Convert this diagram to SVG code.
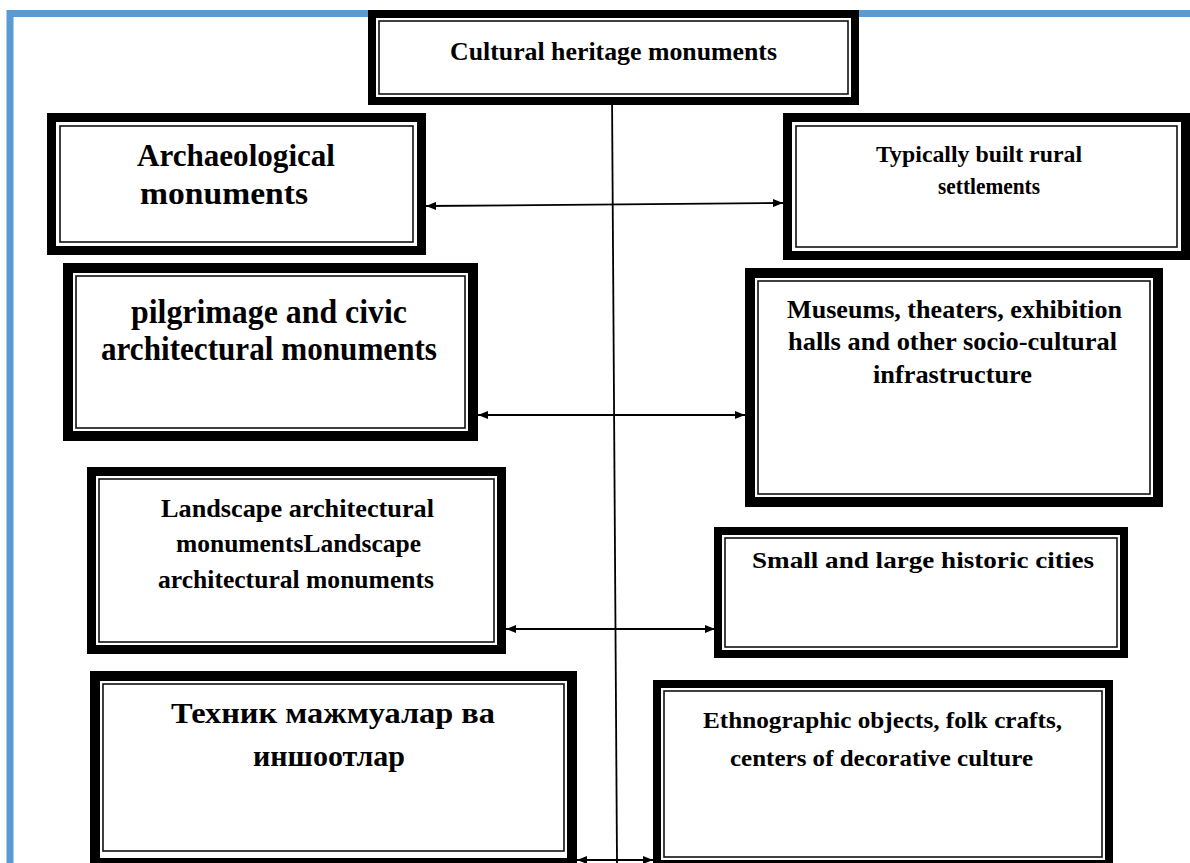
<svg xmlns="http://www.w3.org/2000/svg" width="1190" height="863" viewBox="0 0 1190 863">
<defs>
<style>
.outer{fill:#fff;stroke:#000}
.inner{fill:none;stroke:#111;stroke-width:1.6}
.t{font-family:"Liberation Serif","Times New Roman",serif;font-weight:bold;fill:#000;text-anchor:middle}
.c{stroke:#000;stroke-width:1.8;fill:none}
</style>
<marker id="ah" viewBox="0 0 10 8" refX="10" refY="4" markerWidth="10" markerHeight="8" markerUnits="userSpaceOnUse" orient="auto-start-reverse">
<path d="M0,0 L10,4 L0,8 z" fill="#000"/>
</marker>
</defs>
<rect width="1190" height="863" fill="#fff"/>
<path d="M10,900 V13.5 H1195" fill="none" stroke="#5b9bd5" stroke-width="7"/>

<g id="connectors">
<line class="c" x1="612" y1="93" x2="617" y2="863"/>
<line class="c" x1="426" y1="206" x2="783" y2="203" marker-start="url(#ah)" marker-end="url(#ah)"/>
<line class="c" x1="478" y1="415" x2="745" y2="415" marker-start="url(#ah)" marker-end="url(#ah)"/>
<line class="c" x1="506" y1="629" x2="715" y2="629" marker-start="url(#ah)" marker-end="url(#ah)"/>
<line class="c" x1="577" y1="860" x2="653" y2="860" marker-start="url(#ah)" marker-end="url(#ah)"/>
</g>

<g id="n-top">
<rect class="outer" x="372" y="14" width="483" height="87" stroke-width="8"/>
<rect class="inner" x="379" y="21" width="469" height="73"/>
<text class="t" x="613.5" y="60" font-size="26" textLength="327" lengthAdjust="spacingAndGlyphs">Cultural heritage monuments</text>
</g>

<g id="n-arch">
<rect class="outer" x="51.5" y="117.5" width="370" height="133" stroke-width="9"/>
<rect class="inner" x="60" y="126" width="353" height="116"/>
<text class="t" x="236" y="166" font-size="32" textLength="198" lengthAdjust="spacingAndGlyphs">Archaeological</text>
<text class="t" x="224" y="204" font-size="32" textLength="168" lengthAdjust="spacingAndGlyphs">monuments</text>
</g>

<g id="n-typ">
<rect class="outer" x="787.5" y="117.5" width="398" height="138" stroke-width="9"/>
<rect class="inner" x="796" y="126" width="381" height="121"/>
<text class="t" x="979" y="162" font-size="24" textLength="206" lengthAdjust="spacingAndGlyphs">Typically built rural</text>
<text class="t" x="989" y="194" font-size="24" textLength="102" lengthAdjust="spacingAndGlyphs">settlements</text>
</g>

<g id="n-pilg">
<rect class="outer" x="68" y="268" width="405" height="168" stroke-width="10"/>
<rect class="inner" x="76" y="276" width="389" height="152"/>
<text class="t" x="269" y="323" font-size="34" textLength="276" lengthAdjust="spacingAndGlyphs">pilgrimage  and civic</text>
<text class="t" x="269" y="360" font-size="34" textLength="336" lengthAdjust="spacingAndGlyphs">architectural  monuments</text>
</g>

<g id="n-mus">
<rect class="outer" x="750" y="273" width="408" height="229" stroke-width="10"/>
<rect class="inner" x="758" y="281" width="392" height="213"/>
<text class="t" x="954.5" y="318" font-size="26" textLength="335" lengthAdjust="spacingAndGlyphs">Museums, theaters, exhibition</text>
<text class="t" x="952.5" y="350" font-size="26" textLength="329" lengthAdjust="spacingAndGlyphs">halls and other socio-cultural</text>
<text class="t" x="952.5" y="383" font-size="26" textLength="159" lengthAdjust="spacingAndGlyphs">infrastructure</text>
</g>

<g id="n-land">
<rect class="outer" x="91.5" y="471.5" width="410" height="178" stroke-width="9"/>
<rect class="inner" x="99" y="479" width="395" height="163"/>
<text class="t" x="297.5" y="517" font-size="26" textLength="273" lengthAdjust="spacingAndGlyphs">Landscape  architectural</text>
<text class="t" x="298.5" y="552" font-size="26" textLength="245" lengthAdjust="spacingAndGlyphs">monumentsLandscape</text>
<text class="t" x="296" y="588" font-size="26" textLength="276" lengthAdjust="spacingAndGlyphs">architectural  monuments</text>
</g>

<g id="n-small">
<rect class="outer" x="718" y="531" width="406" height="123" stroke-width="8"/>
<rect class="inner" x="725" y="538" width="392" height="109"/>
<text class="t" x="923" y="568" font-size="24" textLength="342" lengthAdjust="spacingAndGlyphs">Small and large historic cities</text>
</g>

<g id="n-tech">
<rect class="outer" x="95" y="676" width="477" height="187" stroke-width="10"/>
<rect class="inner" x="103" y="684" width="461" height="167"/>
<text class="t" x="333" y="723" font-size="30" textLength="324" lengthAdjust="spacingAndGlyphs">Техник мажмуалар ва</text>
<text class="t" x="329" y="766" font-size="30" textLength="152" lengthAdjust="spacingAndGlyphs">иншоотлар</text>
</g>

<g id="n-eth">
<rect class="outer" x="657" y="684" width="452" height="180" stroke-width="8"/>
<rect class="inner" x="664" y="691" width="438" height="166"/>
<text class="t" x="882.5" y="728" font-size="24" textLength="359" lengthAdjust="spacingAndGlyphs">Ethnographic  objects, folk crafts,</text>
<text class="t" x="881.5" y="766" font-size="24" textLength="303" lengthAdjust="spacingAndGlyphs">centers of decorative  culture</text>
</g>
</svg>
